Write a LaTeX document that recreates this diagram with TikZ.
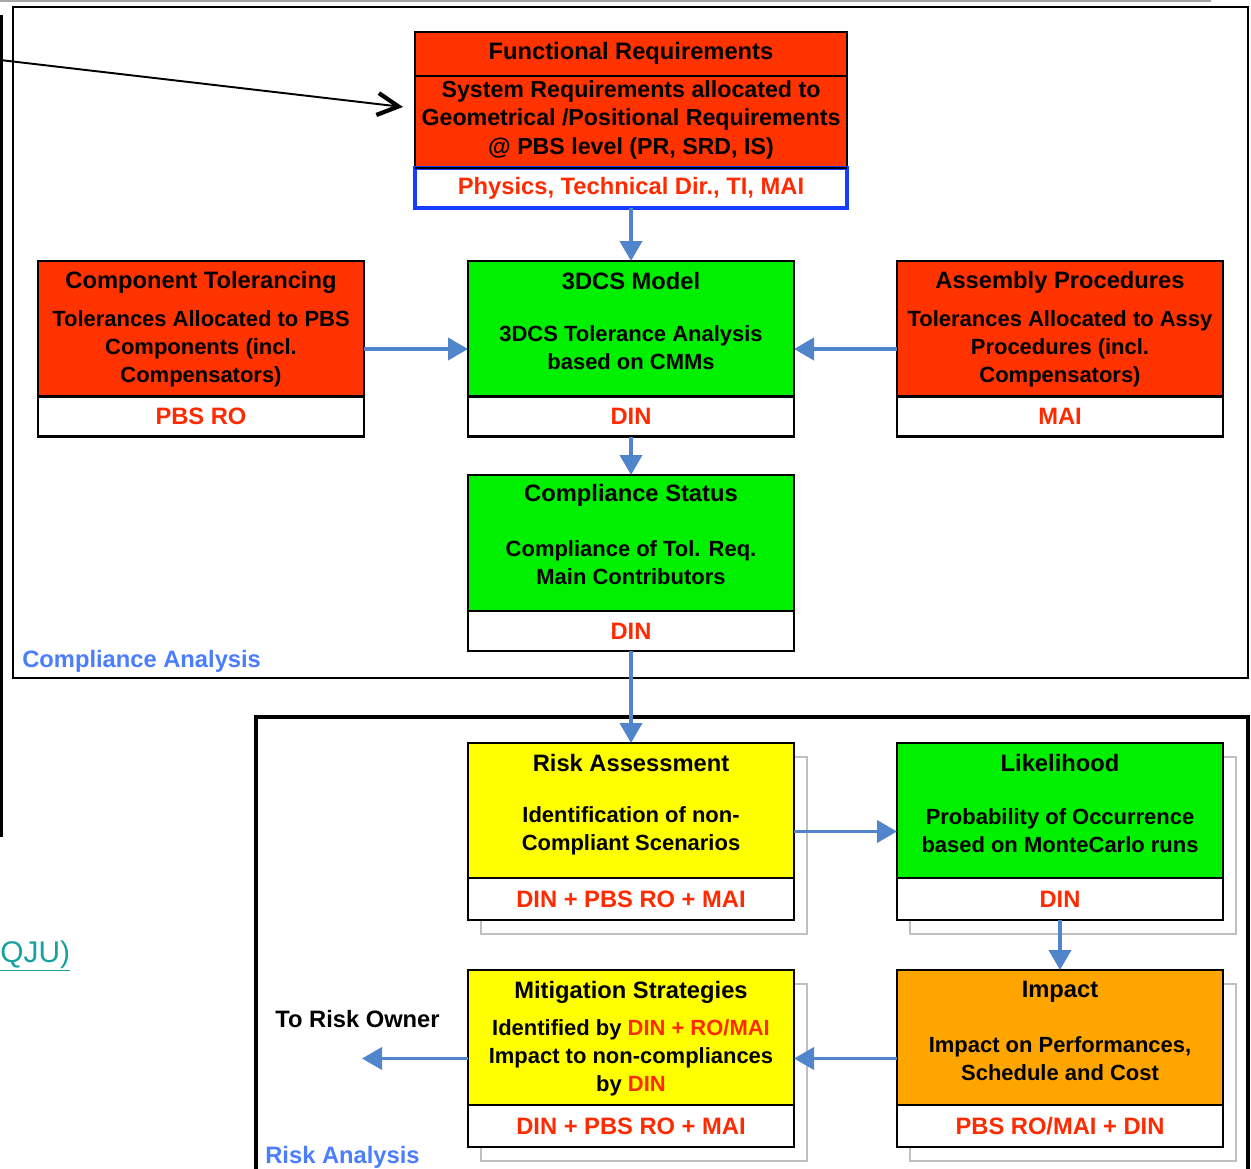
\documentclass[tikz,border=0pt]{standalone}
\usepackage{fontspec}
\setmainfont{Liberation Sans}
\usetikzlibrary{arrows.meta,calc}
\definecolor{boxred}{HTML}{FF3300}
\definecolor{boxgreen}{HTML}{00F000}
\definecolor{boxyellow}{HTML}{FFFF00}
\definecolor{boxorange}{HTML}{FFA500}
\definecolor{rolered}{HTML}{FF2A00}
\definecolor{flowblue}{HTML}{5085CC}
\definecolor{labelblue}{HTML}{4A7EFF}
\definecolor{linkteal}{HTML}{17A2A2}
\definecolor{frameblue}{HTML}{1A3CFF}
\definecolor{shadowgray}{HTML}{C0C0C0}
\begin{document}
\begin{tikzpicture}[x=0.02cm,y=-0.02cm,
  box/.style={draw=black, line width=1.3pt, inner sep=0pt, outer sep=0pt,
              minimum width=326*0.02cm, minimum height=176*0.02cm},
  rbox/.style={box, minimum height=177*0.02cm},
  band/.style={draw=black, fill=white, line width=1.3pt, inner sep=0pt, outer sep=0pt,
               minimum width=326*0.02cm, minimum height=40*0.02cm,
               text=rolered, font=\fontsize{13.5}{16}\selectfont\bfseries},
  ttl/.style={inner sep=0pt, font=\fontsize{13.5}{16}\selectfont\bfseries},
  bdy/.style={inner sep=0pt, align=center, font=\fontsize{12.5}{16}\selectfont\bfseries},
  shadowbox/.style={draw=shadowgray, line width=0.6pt},
  flow/.style={draw=flowblue, line width=2.2pt, -{Triangle[length=0.4cm,width=0.44cm]}},
  grouplabel/.style={inner sep=0pt, anchor=base west, text=labelblue,
                     font=\fontsize{13.5}{16}\selectfont\bfseries}
]
\clip (0,0) rectangle (1251,1169);
\fill[white] (0,0) rectangle (1251,1169);

% background frames and lines
\draw[gray!70, line width=1.2pt] (0,1) -- (1211,1);
\draw[black, line width=1.3pt] (1.5,15) -- (1.5,837);
\node[draw=black, line width=1.3pt, inner sep=0pt, minimum width=1235*0.02cm, minimum height=671*0.02cm] (compl) at (630.5,342.5) {};
\node[draw=black, line width=2.2pt, inner sep=0pt, minimum width=992*0.02cm, minimum height=480*0.02cm] (riskfr) at (752,957) {};

\node[grouplabel] (cal) at (22,667) {Compliance Analysis};
\node[grouplabel] (ral) at (265,1163) {Risk Analysis};
\node[inner sep=0pt, anchor=base west, text=linkteal, font=\fontsize{17}{20}\selectfont] (qju) at (0,962) {\underline{QJU)}};

% Functional requirements
\node[draw=black, fill=boxred, line width=1.3pt, inner sep=0pt, outer sep=0pt,
      minimum width=432*0.02cm, minimum height=136*0.02cm] (fr) at (631,100) {};
\draw[line width=1.3pt] (fr.west |- 0,76) -- (fr.east |- 0,76);
\node[draw=frameblue, fill=white, line width=1.8pt, inner sep=0pt, outer sep=0pt,
      minimum width=432*0.02cm, minimum height=40*0.02cm, text=rolered,
      font=\fontsize{13.5}{16}\selectfont\bfseries] (frb) at (631,188) {Physics, Technical Dir., TI, MAI};
\draw[line width=1.3pt] (fr.south west) -- (fr.south east);
\node[ttl] (frt) at (631,53) {Functional Requirements};
\node[bdy, font=\fontsize{13.2}{16}\selectfont\bfseries] (frd) at (631,120) {System Requirements allocated to\\Geometrical /Positional Requirements\\@ PBS level (PR, SRD, IS)};

\coordinate (src) at (0,60);
\coordinate (frtip) at (403,107);
\draw[line width=1.1pt, -{Straight Barb[length=0.42cm,width=0.44cm,line width=2.4pt]}] (src) -- (frtip);

% Component tolerancing
\node[box, fill=boxred] (ct) at (201,349) {};
\node[band] (ctb) at (201,416.5) {PBS RO};
\node[ttl] (ctt) at (201,282) {Component Tolerancing};
\node[bdy] (ctd) at (201,349) {Tolerances Allocated to PBS\\Components (incl.\\Compensators)};

% 3DCS model
\node[box, fill=boxgreen] (cm) at (631,349) {};
\node[band] (cmb) at (631,416.5) {DIN};
\node[ttl] (cmt) at (631,281) {3DCS Model};
\node[bdy] (cmd) at (631,348) {3DCS Tolerance Analysis\\based on CMMs};

% Assembly procedures
\node[box, fill=boxred] (ap) at (1060,349) {};
\node[band] (apb) at (1060,416.5) {MAI};
\node[ttl] (apt) at (1060,282) {Assembly Procedures};
\node[bdy] (apd) at (1060,349) {Tolerances Allocated to Assy\\Procedures (incl.\\Compensators)};

% Compliance status
\node[box, fill=boxgreen] (cs) at (631,563) {};
\node[band] (csb) at (631,631) {DIN};
\node[ttl] (cst) at (631,495) {Compliance Status};
\node[bdy] (csd) at (631,563) {Compliance of Tol. Req.\\Main Contributors};

% Risk analysis boxes: shadows
\draw[shadowbox] (481,757) rectangle (807,934);
\draw[shadowbox] (910,757) rectangle (1236,934);
\draw[shadowbox] (481,984) rectangle (807,1161);
\draw[shadowbox] (910,984) rectangle (1236,1161);

% Risk assessment
\node[rbox, fill=boxyellow] (ra) at (631,831.5) {};
\node[band, minimum height=42*0.02cm] (rab) at (631,899) {DIN + PBS RO + MAI};
\node[ttl] (rat) at (631,763) {Risk Assessment};
\node[bdy] (rad) at (631,830.5) {Identification of non-\\Compliant Scenarios};

% Likelihood
\node[rbox, fill=boxgreen] (lh) at (1060,831.5) {};
\node[band, minimum height=42*0.02cm] (lhb) at (1060,899) {DIN};
\node[ttl] (lht) at (1060,763) {Likelihood};
\node[bdy] (lhd) at (1060,830.5) {Probability of Occurrence\\based on MonteCarlo runs};

% Mitigation strategies
\node[rbox, fill=boxyellow] (ms) at (631,1058.5) {};
\node[band, minimum height=42*0.02cm] (msb) at (631,1126) {DIN + PBS RO + MAI};
\node[ttl] (mst) at (631,992) {Mitigation Strategies};
\node[bdy] (msd) at (631,1058) {Identified by \textcolor{rolered}{DIN + RO/MAI}\\Impact to non-compliances\\by \textcolor{rolered}{DIN}};

% Impact
\node[rbox, fill=boxorange] (im) at (1060,1058.5) {};
\node[band, minimum height=42*0.02cm] (imb) at (1060,1126) {PBS RO/MAI + DIN};
\node[ttl] (imt) at (1060,992) {Impact};
\node[bdy] (imd) at (1060,1059) {Impact on Performances,\\Schedule and Cost};

\node[ttl, anchor=base west] (owl) at (275,1027) {To Risk Owner};
\coordinate (owner) at (362,1058.5);

% flows
\draw[flow] (frb.south) -- (cm.north);
\draw[flow] (ct.east) -- (cm.west);
\draw[flow] (ap.west) -- (cm.east);
\draw[flow] (cmb.south) -- (cs.north);
\draw[flow] (csb.south) -- (ra.north);
\draw[flow] (ra.east) -- (lh.west);
\draw[flow] (lhb.south) -- (im.north);
\draw[flow] (im.west) -- (ms.east);
\draw[flow] (ms.west) -- (owner);
\end{tikzpicture}
\end{document}
